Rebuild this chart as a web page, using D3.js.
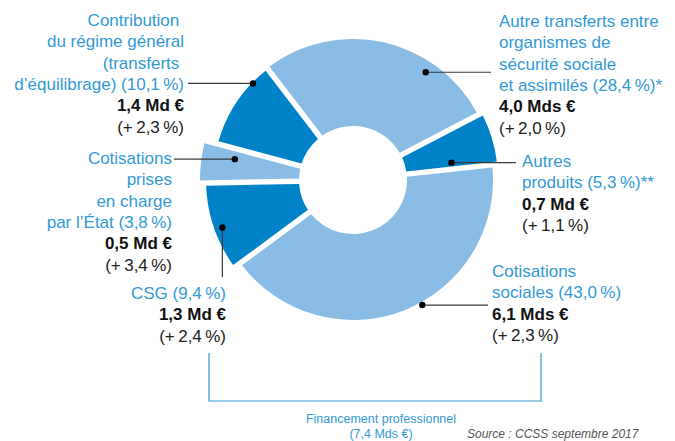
<!DOCTYPE html>
<html lang="fr">
<head>
<meta charset="utf-8">
<script src="https://cdn.jsdelivr.net/npm/d3@7"></script>
<style>
  html, body { margin: 0; padding: 0; background: #fff; }
  svg { display: block; font-family: "Liberation Sans", Arial, sans-serif; }
</style>
</head>
<body>
<svg id="chart" width="675" height="441"></svg>
<script>
// Ressources de la branche : parts, montants et évolutions
const categories = [
  "Autre transferts entre organismes de sécurité sociale et assimilés",
  "Autres produits",
  "Cotisations sociales",
  "CSG",
  "Cotisations prises en charge par l’État",
  "Contribution du régime général (transferts d’équilibrage)"
];
const shares  = [28.4, 5.3, 43.0, 9.4, 3.8, 10.1];   // % du total
const amounts = [4.0, 0.7, 6.1, 1.3, 0.5, 1.4];      // milliards d'euros
const growth  = [2.0, 1.1, 2.3, 2.4, 3.4, 2.3];      // évolution en %
const shareMarks = ["*", "**", "", "", "", ""];

// Libellés découpés en lignes (la dernière ligne reçoit la part)
const labelLines = [
  ["Autre transferts entre", "organismes de", "sécurité sociale", "et assimilés"],
  ["Autres", "produits"],
  ["Cotisations", "sociales"],
  ["CSG"],
  ["Cotisations", "prises", "en charge", "par l’État"],
  ["Contribution\u00a0", "du régime général", "(transferts\u00a0", "d’équilibrage)"]
];
const bracketTitle = ["Financement professionnel", "(7,4 Mds €)"];
const sourceText = "Source : CCSS septembre 2017";

// ---- Mise en forme ----
const W = 675, H = 441;
const cx = 353, cy = 180;
const innerR = 54;
const outerR = [141, 145, 140, 147, 153, 140];
const fills  = ["#89bde6", "#0082c8", "#89bde6", "#0082c8", "#89bde6", "#0082c8"];
const labelBlue = "#3399d6";
const startDeg = -37.5;
const fs = 17, lh = 21.3;

// point d'accroche du trait de rappel (angle en degrés, rayon)
const anchors = [[34, 130], [80, 100], [151, 143], [250, 139], [280, 120], [314, 139]];
// bloc de texte : x, ligne de base de la 1re ligne, alignement
const blocks = [
  {x: 499, y: 27,  anchor: "start"},
  {x: 522, y: 167, anchor: "start"},
  {x: 492, y: 277, anchor: "start"},
  {x: 226, y: 299, anchor: "end"},
  {x: 172, y: 164, anchor: "end"},
  {x: 184, y: 26,  anchor: "end"}
];
// extrémité du trait de rappel côté texte
const leaderEnds = [[491, null], [516, null], [488, null], [null, 277], [174, null], [188, null]];

const fmtNum = d3.formatLocale({decimal: ",", thousands: "\u00a0", grouping: [3], currency: ["", " €"]}).format(".1f");
const amountText = v => `${fmtNum(v)} ${v >= 2 ? "Mds" : "Md"} €`;
const growthText = v => `(+\u2009${fmtNum(v)}\u2009%)`;
const shareText  = (v, m) => `(${fmtNum(v)}\u2009%)${m}`;

const svg = d3.select("#chart");
const rad = d => d * Math.PI / 180;

const pie = d3.pie().sort(null).value(d => d)
  .startAngle(rad(startDeg)).endAngle(rad(startDeg + 360))
  .padAngle(0.055);
const arcs = pie(shares);

const arcGen = d3.arc()
  .innerRadius(innerR)
  .padRadius(100);

const g = svg.append("g").attr("transform", `translate(${cx},${cy})`);
g.selectAll("path.slice")
  .data(arcs)
  .join("path")
  .attr("class", "slice")
  .attr("fill", (d, i) => fills[i])
  .attr("d", (d, i) => arcGen.outerRadius(outerR[i])(d));

// Traits de rappel et points
const polar = (deg, r) => [cx + r * Math.sin(rad(deg)), cy - r * Math.cos(rad(deg))];
anchors.forEach((a, i) => {
  const [px, py] = polar(a[0], a[1]);
  const [ex, ey] = leaderEnds[i];
  const x2 = ex === null ? px : ex;
  const y2 = ey === null ? py : ey;
  svg.append("line")
    .attr("x1", px).attr("y1", py).attr("x2", x2).attr("y2", y2)
    .attr("stroke", "#3a3a3a").attr("stroke-width", 1.2);
  svg.append("circle").attr("cx", px).attr("cy", py).attr("r", 3.2).attr("fill", "#000");
});

// Libellés
categories.forEach((c, i) => {
  const b = blocks[i];
  const lines = labelLines[i].slice();
  lines[lines.length - 1] = lines[lines.length - 1] + " " + shareText(shares[i], shareMarks[i]);
  const t = svg.append("text")
    .attr("text-anchor", b.anchor)
    .attr("font-size", fs);
  lines.forEach((ln, k) => {
    t.append("tspan").attr("x", b.x).attr("y", b.y + k * lh)
      .attr("fill", labelBlue).text(ln);
  });
  const n = lines.length;
  t.append("tspan").attr("x", b.x).attr("y", b.y + n * lh)
    .attr("fill", "#111").attr("font-weight", "bold").text(amountText(amounts[i]));
  t.append("tspan").attr("x", b.x).attr("y", b.y + (n + 1) * lh)
    .attr("fill", "#222").text(growthText(growth[i]));
});

// Accolade du financement professionnel (CSG + cotisations sociales)
svg.append("path")
  .attr("d", d3.line()([[209, 353], [209, 401], [541, 401], [541, 353]]))
  .attr("fill", "none").attr("stroke", labelBlue).attr("stroke-width", 1.2);

svg.append("text")
  .attr("text-anchor", "middle").attr("font-size", 12.5).attr("fill", labelBlue)
  .selectAll("tspan").data(bracketTitle).join("tspan")
  .attr("x", 381).attr("y", (d, k) => 423 + k * 15).text(d => d);

svg.append("text")
  .attr("x", 467).attr("y", 438)
  .attr("font-size", 12).attr("font-style", "italic").attr("fill", "#555")
  .text(sourceText);
</script>
</body>
</html>
